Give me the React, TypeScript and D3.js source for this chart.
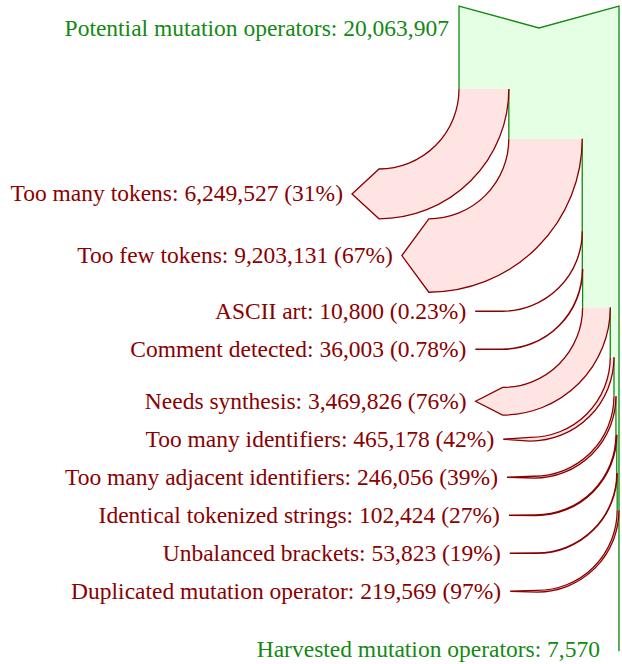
import React, { useEffect, useRef } from "react";
import * as d3 from "d3";

// Source and sink of the flow
const sourceLabel = "Potential mutation operators";
const sourceCount = 20063907;
const sinkLabel = "Harvested mutation operators";

// Rejection steps, in the order the filters are applied
const stepNames = [
  "Too many tokens",
  "Too few tokens",
  "ASCII art",
  "Comment detected",
  "Needs synthesis",
  "Too many identifiers",
  "Too many adjacent identifiers",
  "Identical tokenized strings",
  "Unbalanced brackets",
  "Duplicated mutation operator",
];
const stepCounts = [
  6249527, 9203131, 10800, 36003, 3469826, 465178, 246056, 102424, 53823,
  219569,
];

const width = 622;
const height = 664;

// Colors
const green = "#138913";
const greenFill = "#e5ffe5";
const red = "#8b0000";
const redFill = "#ffe4e4";
const fontFamily = "'Liberation Serif', 'Times New Roman', serif";
const fontSize = 23.5;

// Layout constants
const trunkRight = width - 3;
const trunkWidth = 160;
const topY = 6; // top of the trunk
const notch = 22; // depth of the tail notch
const lead = 83; // straight trunk before the first branch
const radius = 80; // outer radius of each turn
const head = 27; // arrowhead depth
const labelGap = 9;
const labelHalf = 19; // half the height of a label
const wideGap = 14; // extra room before a wide arrow that follows a thin one
const thinLimit = 10;

const fmt = d3.format(",");
const pctText = (p: number) =>
  p < 0.01 ? `${(p * 100).toFixed(2)}%` : `${Math.round(p * 100)}%`;

const App = () => {
  const ref = useRef<SVGSVGElement | null>(null);

  useEffect(() => {
    const svg = d3.select(ref.current);
    svg.selectAll("*").remove();

    const xScale = d3
      .scaleLinear()
      .domain([0, sourceCount])
      .range([0, trunkWidth]);

    const trunkLeft = trunkRight - trunkWidth;

    // Stack the branches down the trunk
    let left = trunkLeft;
    let remaining = sourceCount;
    let prevEnd = 0;
    let prevThin = false;
    const steps = stepNames.map((name, i) => {
      const count = stepCounts[i];
      const w = xScale(count);
      const thin = w < thinLimit;
      let top;
      if (i === 0) {
        top = topY + lead + radius;
      } else {
        const g = !thin && prevThin ? wideGap : 0;
        top = prevEnd + g + Math.max(0, labelHalf - w / 2);
      }
      const step = {
        name,
        count,
        w,
        x0: left,
        y0: top - radius,
        top,
        mid: top + w / 2,
        pct: count / remaining,
      };
      prevEnd = top + Math.max(w, w / 2 + labelHalf);
      prevThin = thin;
      left += w;
      remaining -= count;
      return step;
    });

    const sinkCount = remaining;
    const leftEnd = left;
    const bottom = steps[steps.length - 1].mid + 60;

    // Trunk fill
    const pts: [number, number][] = [
      [trunkLeft, topY],
      [trunkLeft + trunkWidth / 2, topY + notch],
      [trunkRight, topY],
      [trunkRight, bottom],
      [leftEnd, bottom],
    ];
    for (let i = steps.length - 1; i >= 0; i--) {
      const s = steps[i];
      pts.push([s.x0 + s.w, s.y0]);
      pts.push([s.x0, s.y0]);
    }
    svg
      .append("path")
      .attr("d", d3.line()(pts) + "Z")
      .attr("fill", greenFill)
      .attr("stroke", "none");

    // Trunk outline, without the steps that the branches cover
    const outline = d3.path();
    outline.moveTo(trunkLeft, steps[0].y0);
    outline.lineTo(trunkLeft, topY);
    outline.lineTo(trunkLeft + trunkWidth / 2, topY + notch);
    outline.lineTo(trunkRight, topY);
    outline.lineTo(trunkRight, bottom);
    steps.forEach((s, i) => {
      const next = i < steps.length - 1 ? steps[i + 1].y0 : bottom;
      outline.moveTo(s.x0 + s.w, s.y0);
      outline.lineTo(s.x0 + s.w, next);
    });
    svg
      .append("path")
      .attr("d", outline.toString())
      .attr("fill", "none")
      .attr("stroke", green)
      .attr("stroke-width", 1.3);

    // Branches: turn to the left and end in an arrowhead
    const branchPath = (s: (typeof steps)[number], closed: boolean) => {
      const p = d3.path();
      const cx = s.x0 - radius;
      const cy = s.y0;
      p.moveTo(s.x0, s.y0);
      p.arc(cx, cy, radius, 0, Math.PI / 2, false);
      p.lineTo(cx - head, cy + radius + s.w / 2);
      p.lineTo(cx, cy + radius + s.w);
      p.arc(cx, cy, radius + s.w, Math.PI / 2, 0, true);
      if (closed) p.closePath();
      return p.toString();
    };

    const branches = svg.append("g").selectAll("g").data(steps).join("g");
    branches
      .append("path")
      .attr("d", (d) => branchPath(d, true))
      .attr("fill", redFill)
      .attr("stroke", "none");
    branches
      .append("path")
      .attr("d", (d) => branchPath(d, false))
      .attr("fill", "none")
      .attr("stroke", red)
      .attr("stroke-width", 1.3);

    // Labels
    const labels = svg
      .append("g")
      .attr("font-family", fontFamily)
      .attr("font-size", fontSize)
      .attr("text-anchor", "end");

    labels
      .selectAll("text.step")
      .data(steps)
      .join("text")
      .attr("class", "step")
      .attr("x", (d) => d.x0 - radius - head - labelGap)
      .attr("y", (d) => d.mid + 7.5)
      .attr("fill", red)
      .text((d) => `${d.name}: ${fmt(d.count)} (${pctText(d.pct)})`);

    labels
      .append("text")
      .attr("x", trunkLeft - 10)
      .attr("y", topY + notch + 8)
      .attr("fill", green)
      .text(`${sourceLabel}: ${fmt(sourceCount)}`);

    labels
      .append("text")
      .attr("x", trunkRight - 19)
      .attr("y", bottom + 6)
      .attr("fill", green)
      .text(`${sinkLabel}: ${fmt(sinkCount)}`);
  }, []);

  return (
    <svg
      ref={ref}
      width={width}
      height={height}
      viewBox={`0 0 ${width} ${height}`}
      style={{ position: "absolute", left: 0, top: 0, background: "#fff" }}
    />
  );
};

export default App;
